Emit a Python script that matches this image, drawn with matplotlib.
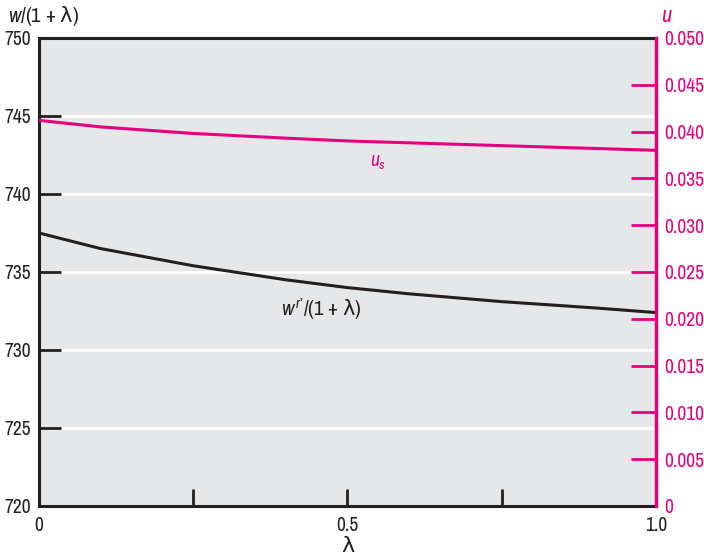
import matplotlib
matplotlib.use("Agg")
import matplotlib.pyplot as plt
from matplotlib import font_manager

# lambda values and curves
lam = [0.0, 0.1, 0.25, 0.4, 0.5, 0.6, 0.75, 0.9, 1.0]
w_r = [737.5, 736.5, 735.4, 734.5, 734.0, 733.6, 733.1, 732.7, 732.4]
u_s = [0.0412, 0.0405, 0.0398, 0.0393, 0.0390, 0.0388, 0.0385, 0.0382, 0.0380]

left_ticks = [720, 725, 730, 735, 740, 745, 750]
right_ticks = [0, 0.005, 0.010, 0.015, 0.020, 0.025, 0.030, 0.035, 0.040, 0.045, 0.050]
right_labels = ["0", "0.005", "0.010", "0.015", "0.020", "0.025", "0.030",
                "0.035", "0.040", "0.045", "0.050"]

MAGENTA = "#E6007E"
BG = "#E6E7E9"
INK = "#231F20"

# pick a narrow face if one is around
fonts = font_manager.fontManager.ttflist
narrow = [f.name for f in fonts if "Narrow" in f.name or "Condensed" in f.name]
dv_cond = [f for f in fonts if f.name == "DejaVu Sans" and f.stretch == "condensed"]
stretch = "normal"
if narrow:
    fam = narrow[0]
elif dv_cond:
    fam = "DejaVu Sans"
    stretch = "condensed"
else:
    fam = "Liberation Sans"
plt.rcParams["font.family"] = [fam, "DejaVu Sans"]
plt.rcParams["font.stretch"] = stretch
plt.rcParams["mathtext.fontset"] = "custom"
plt.rcParams["mathtext.it"] = f"{fam}:italic:stretch={stretch}"
plt.rcParams["mathtext.rm"] = f"{fam}:stretch={stretch}"
plt.rcParams["mathtext.sf"] = "DejaVu Sans"
plt.rcParams["mathtext.fallback"] = "stixsans"

fs = 14 if fam != "Liberation Sans" else 12.5
LAM = r"\mathsf{\lambda}"

fig = plt.figure(figsize=(7.04, 5.58), dpi=100)
ax = fig.add_axes([0.0554, 0.0932, 0.8764, 0.8387])
ax.set_facecolor(BG)

for y in left_ticks[1:-1]:
    ax.axhline(y, color="white", lw=2, zorder=1)

ax.plot(lam, w_r, color=INK, lw=2.2, zorder=3)
ax.set_xlim(0, 1)
ax.set_ylim(720, 750)
ax.set_yticks(left_ticks)
ax.set_xticks([0, 0.25, 0.5, 0.75, 1.0])
ax.set_xticklabels(["0", "", "0.5", "", "1.0"])
ax.tick_params(axis="y", direction="in", length=16, width=2, pad=6,
               labelsize=fs, color=INK, labelcolor=INK)
ax.tick_params(axis="x", direction="in", length=12, width=2, pad=7,
               labelsize=fs, color=INK, labelcolor=INK)
for s in ["left", "bottom", "top"]:
    ax.spines[s].set_linewidth(2.2)
    ax.spines[s].set_color(INK)
ax.spines["right"].set_visible(False)

ax2 = ax.twinx()
ax2.plot(lam, u_s, color=MAGENTA, lw=2.2, zorder=3)
ax2.set_ylim(0, 0.05)
ax2.set_yticks(right_ticks)
ax2.set_yticklabels(right_labels)
ax2.tick_params(axis="y", direction="in", length=18, width=2, pad=6,
                labelsize=fs, color=MAGENTA, labelcolor=MAGENTA)
# end ticks sit on the frame, hide them
rt = ax2.yaxis.get_major_ticks()
rt[0].tick2line.set_visible(False)
rt[-1].tick2line.set_visible(False)
for s in ["left", "bottom", "top"]:
    ax2.spines[s].set_visible(False)
ax2.spines["right"].set_color(MAGENTA)
ax2.spines["right"].set_linewidth(2.5)

ax.set_xlabel("λ", fontsize=fs + 2, labelpad=1, color=INK)
fig.text(0.012, 0.971, rf"$w$/(1 + ${LAM}$)", fontsize=fs + 1, ha="left",
         va="center", color=INK)
fig.text(0.947, 0.971, r"$u$", fontsize=fs + 2, ha="center", va="center",
         color=MAGENTA)

ax2.text(0.55, 0.0367, r"$u_s$", fontsize=fs, color=MAGENTA, ha="center",
         va="center")
ax.text(0.458, 732.6, "$w^{\\,r\u2019}$/(1 + $" + LAM + "$)", fontsize=fs + 1,
        color=INK, ha="center", va="center")

fig.savefig("out.png", dpi=100)
